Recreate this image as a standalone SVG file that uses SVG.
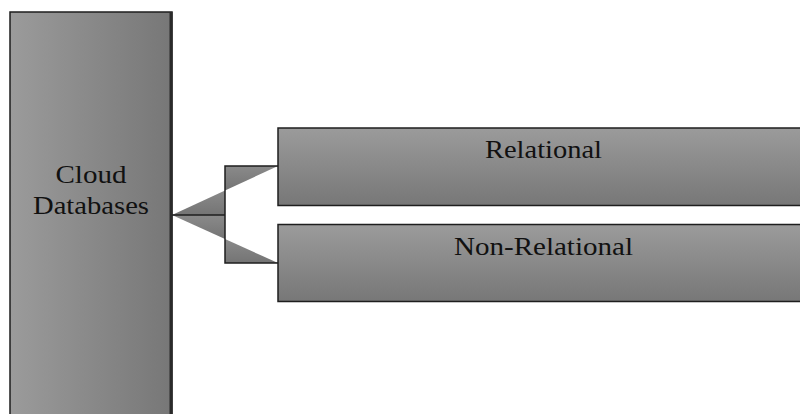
<svg xmlns="http://www.w3.org/2000/svg" width="800" height="414" viewBox="0 0 800 414">
<defs>
<linearGradient id="gH" x1="0" y1="0" x2="1" y2="0"><stop offset="0" stop-color="#9b9b9b"/><stop offset="1" stop-color="#777"/></linearGradient>
<linearGradient id="gV" x1="0" y1="0" x2="0" y2="1"><stop offset="0" stop-color="#9b9b9b"/><stop offset="1" stop-color="#777"/></linearGradient>
<linearGradient id="gW" x1="0" y1="0" x2="0" y2="1"><stop offset="0" stop-color="#8a8a8a"/><stop offset="1" stop-color="#747474"/></linearGradient>
</defs>
<style>
.box{stroke:#1e1e1e;stroke-width:1.5}
.lbl{font-family:"Liberation Serif","Times New Roman",serif;font-size:25px;fill:#111;text-anchor:middle}
.wedge{fill:url(#gW);stroke:none}
.line{fill:none;stroke:#1e1e1e;stroke-width:1.5}
</style>
<g id="connectors">
<polygon class="wedge" points="172,215 225,215 225,190.5"/>
<polygon class="wedge" points="225,166 278,166 225,190.5"/>
<polygon class="wedge" points="172,215 225,215 225,239"/>
<polygon class="wedge" points="225,263 278,263 225,239"/>
<path class="line" d="M172,215 H225 M278,166 H225 V263 H278"/>
</g>
<g id="cloud-databases">
<rect class="box" x="10" y="12" width="162" height="420" fill="url(#gH)"/>
<line x1="171" y1="12" x2="171" y2="414" stroke="#2a2a2a" stroke-width="3"/>
<text class="lbl" x="91" y="183" textLength="71" lengthAdjust="spacingAndGlyphs">Cloud</text>
<text class="lbl" x="91" y="213.5" textLength="116" lengthAdjust="spacingAndGlyphs">Databases</text>
</g>
<g id="relational">
<rect class="box" x="278" y="128" width="535" height="77.5" fill="url(#gV)"/>
<text class="lbl" x="543.5" y="158" textLength="117" lengthAdjust="spacingAndGlyphs">Relational</text>
</g>
<g id="non-relational">
<rect class="box" x="278" y="224.5" width="535" height="77" fill="url(#gV)"/>
<text class="lbl" x="543.5" y="255" textLength="179" lengthAdjust="spacingAndGlyphs">Non-Relational</text>
</g>
</svg>
